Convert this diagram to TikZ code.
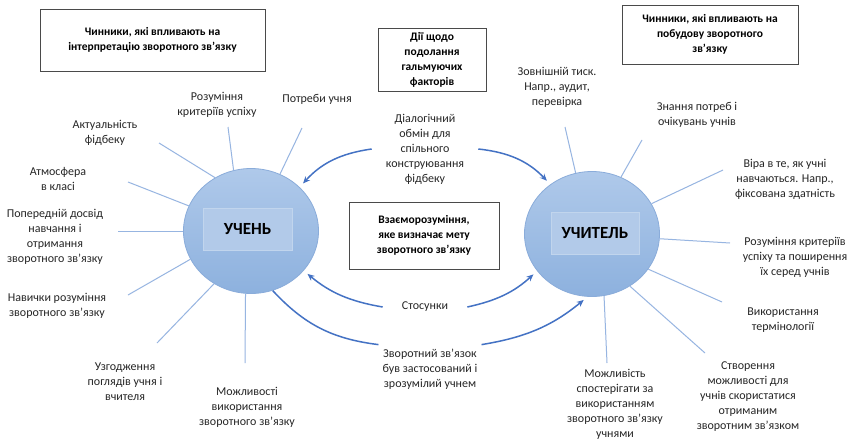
\documentclass[tikz,border=0pt]{standalone}
\usepackage{fontspec}
\setmainfont{Carlito}
\usetikzlibrary{shapes.geometric,arrows.meta}

\definecolor{textgray}{HTML}{262626}
\definecolor{boxgray}{HTML}{4A4A4A}
\definecolor{spokeblue}{HTML}{97B5E1}
\definecolor{balltop}{HTML}{AFC9EA}
\definecolor{ballbottom}{HTML}{8DB1DE}
\definecolor{ballrim}{HTML}{8AACDA}
\definecolor{tagfill}{HTML}{B2CAE9}
\definecolor{flowblue}{HTML}{4472C4}

\tikzset{
    lbl/.style={align=center, text=textgray, inner sep=1pt,
        font=\fontsize{12}{15}\selectfont},
    frame/.style={draw=boxgray, line width=0.9pt, align=center, text=black,
        font=\fontsize{11.5}{15}\selectfont\bfseries},
    ball/.style={ellipse, minimum width=135pt, minimum height=125pt,
        draw=ballrim, line width=0.8pt, top color=balltop, bottom color=ballbottom},
    tag/.style={fill=tagfill, draw=tagfill!80!white, minimum width=89pt,
        minimum height=42pt, font=\fontsize{17}{20}\selectfont\bfseries, text=black},
    spoke/.style={draw=spokeblue, line width=1pt},
    flow/.style={draw=flowblue, line width=1.5pt, -{Stealth[length=7pt,width=6pt]},
        shorten >=5pt},
    flowline/.style={draw=flowblue, line width=1.5pt}
}

\begin{document}
\begin{tikzpicture}[x=1pt,y=-1pt]

    \path[use as bounding box, fill=white] (0,0) rectangle (850,442);

    % framed titles
    \node (tlbox) at (152.5,40) [frame, minimum width=225pt, minimum height=62pt]
        {Чинники, які впливають на\\інтерпретацію зворотного зв’язку};
    \node (tcbox) at (432,59.5) [frame, minimum width=108pt, minimum height=63pt]
        {Дії щодо\\подолання\\гальмуючих\\факторів};
    \node (trbox) at (710,34.5) [frame, minimum width=176pt, minimum height=59pt]
        {Чинники, які впливають на\\побудову зворотного\\зв’язку};
    \node (midbox) at (424,235.5) [frame, minimum width=150pt, minimum height=67pt]
        {Взаєморозуміння,\\яке визначає мету\\зворотного зв’язку};

    % the two actors
    \node (learner) at (251,231) [ball] {};
    \node (learnertag) at (247.5,229) [tag] {УЧЕНЬ};
    \node (teacher) at (592,234) [ball] {};
    \node (teachertag) at (595,233) [tag, minimum width=88pt] {УЧИТЕЛЬ};

    % factors round the learner
    \node (crit) at (217,105) [lbl] {Розуміння\\критеріїв успіху};
    \node (needs) at (317,99) [lbl] {Потреби учня};
    \node (actual) at (105,133) [lbl] {Актуальність\\фідбеку};
    \node (atmos) at (58,179) [lbl] {Атмосфера\\в класі};
    \node (prior) at (55,236.5) [lbl] {Попередній досвід\\навчання і\\отримання\\зворотного зв’язку};
    \node (skills) at (57,305.5) [lbl] {Навички розуміння\\зворотного зв’язку};
    \node (agree) at (125,382) [lbl] {Узгодження\\поглядів учня і\\вчителя};
    \node (uses) at (247,407) [lbl] {Можливості\\використання\\зворотного зв’язку};

    % factors round the teacher
    \node (press) at (557,87.5) [lbl] {Зовнішній тиск.\\Напр., аудит,\\перевірка};
    \node (know) at (697,114.5) [lbl] {Знання потреб і\\очікувань учнів};
    \node (belief) at (785,179) [lbl] {Віра в те, як учні\\навчаються. Напр.,\\фіксована здатність};
    \node (tcrit) at (795,257) [lbl] {Розуміння критеріїв\\успіху та поширення\\їх серед учнів};
    \node (term) at (783,320) [lbl] {Використання\\термінології};
    \node (create) at (748,396.5) [lbl] {Створення\\можливості для\\учнів скористатися\\отриманим\\зворотним зв’язком};
    \node (observe) at (615,404.5) [lbl] {Можливість\\спостерігати за\\використанням\\зворотного зв’язку\\учнями};

    % middle texts
    \node (dialog) at (425,149) [lbl, inner xsep=14pt] {Діалогічний\\обмін для\\спільного\\конструювання\\фідбеку};
    \node (rel) at (425,307) [lbl, inner xsep=19pt] {Стосунки};
    \node (fbk) at (430,369) [lbl, inner sep=4pt] {Зворотний зв’язок\\був застосований і\\зрозумілий учнем};

    % spokes
    \foreach \i/\px/\py/\ang in {1/228/127/106, 2/302/128/63, 3/159/143/124,
            4/128/182/158, 5/118/231/180, 6/128/295/205, 7/157/343/235, 8/245/363/265} {
        \coordinate (ls\i) at (\px,\py);
        \draw[spoke] (ls\i) -- (learner.\ang);
    }
    \foreach \i/\px/\py/\ang in {1/565/127/105, 2/642/140/63, 3/723/170/27,
            4/730/243/-4, 5/722/302/-32, 6/705/353/-54, 7/607/363/-79} {
        \coordinate (ts\i) at (\px,\py);
        \draw[spoke] (ts\i) -- (teacher.\ang);
    }

    % flows
    \draw[flow] (dialog.west) to[bend right=20] (learner.42);
    \draw[flow] (dialog.east) to[bend left=20] (teacher.130);
    \draw[flow] (rel.west) to[bend left=15] (learner.-37);
    \draw[flow] (rel.east) to[bend right=15] (teacher.214);
    \draw[flowline] (learner.-70) to[bend right=20] (fbk.north west);
    \draw[flow] (fbk.north east) to[bend right=15] (teacher.266);

\end{tikzpicture}
\end{document}
